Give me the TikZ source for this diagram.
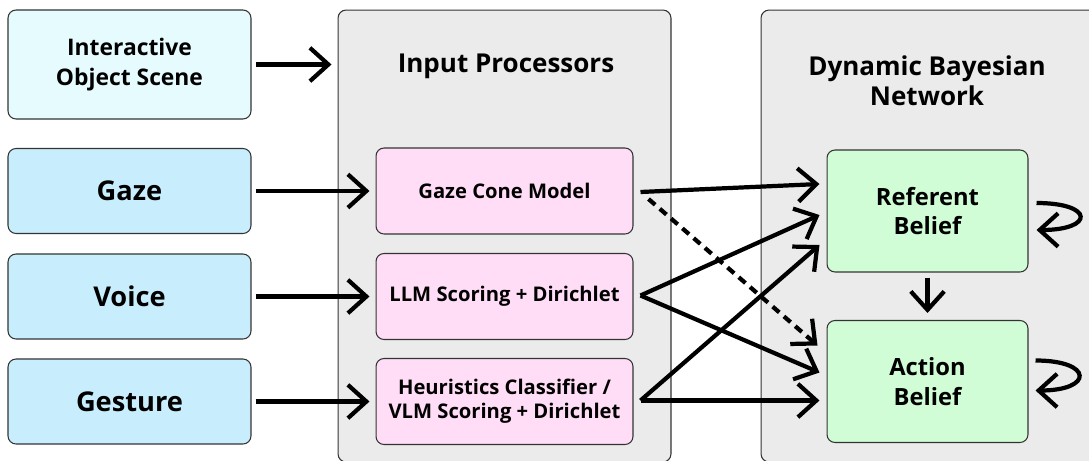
\documentclass[tikz,border=0pt]{standalone}
\usepackage{fontspec}
\setmainfont{Open Sans}
\usetikzlibrary{arrows.meta, calc}

\definecolor{scenecol}{HTML}{E6FBFE}
\definecolor{inputcol}{HTML}{C8EEFD}
\definecolor{panelcol}{HTML}{EBEBEB}
\definecolor{proccol}{HTML}{FFDDF6}
\definecolor{beliefcol}{HTML}{D0FDD6}
\definecolor{edgecol}{HTML}{333333}

\begin{document}
\begin{tikzpicture}[x=0.02cm, y=-0.02cm,
  box/.style={draw=edgecol, line width=0.6pt, rounded corners=0.16cm, align=center, inner sep=0pt, font=\bfseries},
  panel/.style={box, fill=panelcol, minimum width=6.66cm, minimum height=9.04cm},
  inbox/.style={box, fill=inputcol, minimum width=4.86cm, minimum height=1.7cm, font=\fontsize{15.5}{18}\selectfont\bfseries},
  procbox/.style={box, fill=proccol, minimum width=5.14cm, minimum height=1.72cm, font=\fontsize{11.5}{13.5}\selectfont\bfseries},
  beliefbox/.style={box, fill=beliefcol, minimum width=4.02cm, minimum height=2.44cm, font=\fontsize{13.5}{17}\selectfont\bfseries},
  title/.style={align=center, font=\fontsize{14.8}{17}\selectfont\bfseries},
  arr/.style={-{Straight Barb[length=10.5pt, width=19pt, line width=2.4pt]}, line width=2.4pt, shorten <=0.08cm, shorten >=0.12cm},
]
\useasboundingbox (0,0) rectangle (1089,460);
% Panels
\node[panel] (inproc) at (504.5,236) {};
\node[panel, minimum width=6.78cm] (dbn) at (930.5,236) {};
\node[title] at (506,66) {Input Processors};
\node[title] at (927,81) {Dynamic Bayesian\\Network};
% Inputs
\node[box, fill=scenecol, minimum width=4.86cm, minimum height=2.18cm, font=\fontsize{13}{17}\selectfont\bfseries] (ios) at (129.5,64.5) {Interactive\\Object Scene};
\node[inbox] (gaze) at (129.5,191) {Gaze};
\node[inbox] (voice) at (129.5,296.5) {Voice};
\node[inbox] (gesture) at (129.5,401.5) {Gesture};
% Processors
\node[procbox] (cone) at (504.5,191) {Gaze Cone Model};
\node[procbox] (llm) at (504.5,296.5) {LLM Scoring + Dirichlet};
\node[procbox] (heur) at (504.5,401.5) {Heuristics Classifier /\\VLM Scoring + Dirichlet};
% Beliefs
\node[beliefbox] (ref) at (927.5,211) {Referent\\Belief};
\node[beliefbox] (act) at (927.5,381.5) {Action\\Belief};
% Arrows
\draw[arr] (ios.east) -- (ios.east -| inproc.west);
\draw[arr] (gaze) -- (cone);
\draw[arr] (voice) -- (llm);
\draw[arr] (gesture) -- (heur);
\draw[arr, shorten <=0pt, shorten >=0pt] ($(cone.east)+(7,1)$) -- ($(ref.west)+(-7,-27)$);
\draw[arr, shorten <=0pt, shorten >=0pt] ($(llm.east)+(7,-1)$) -- ($(ref.west)+(-7,4)$);
\draw[arr, shorten <=0pt, shorten >=0pt] ($(llm.east)+(7,-1)$) -- ($(act.west)+(-7,-9)$);
\draw[arr, shorten <=0pt, shorten >=0pt] ($(heur.east)+(7,-1)$) -- ($(ref.west)+(-7,34)$);
\draw[arr, shorten <=0pt, shorten >=0pt] ($(heur.east)+(7,-1)$) -- ($(act.west)+(-7,19)$);
\draw[arr, dash pattern=on 5pt off 3.5pt, shorten <=0pt, shorten >=0pt] ($(cone.east)+(15,8)$) -- ($(act.west)+(-9,-36)$);
\draw[arr, shorten <=0.1cm, shorten >=0.14cm] (ref) -- (act);
% Self loops
\draw[arr, shorten <=0pt, shorten >=0pt] ($(ref.east)+(8,-8)$) .. controls +(58,0) and +(58,0) .. ($(ref.east)+(8,19)$);
\draw[arr, shorten <=0pt, shorten >=0pt] ($(act.east)+(7,-21)$) .. controls +(58,0) and +(58,0) .. ($(act.east)+(7,9)$);
\end{tikzpicture}
\end{document}
